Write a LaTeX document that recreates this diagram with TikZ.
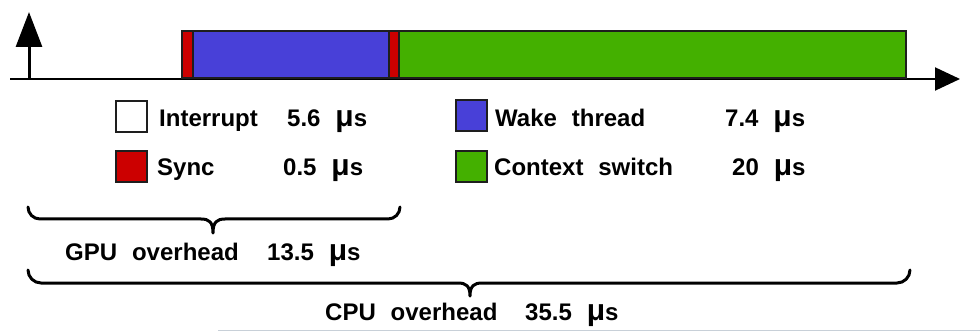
\documentclass[tikz,border=0pt]{standalone}
\usepackage{fontspec}
\setmainfont{Liberation Sans}
\usetikzlibrary{arrows.meta}
\definecolor{syncred}{RGB}{204,0,0}
\definecolor{wakeblue}{RGB}{72,64,216}
\definecolor{ctxgreen}{RGB}{68,176,0}
\definecolor{edge}{RGB}{30,30,30}
\newcommand\widewords{\spaceskip=0.62em\relax}
% micro sign set a little larger than the surrounding text
\newcommand\us{{\fontsize{30}{30}\selectfont μ}s}
\tikzset{
  txt/.style={anchor=base west, inner sep=0pt,
    font=\fontsize{24}{28}\selectfont\bfseries,
    execute at begin node=\widewords},
  seg/.style={draw=edge, line width=1.8pt, anchor=south west, inner sep=0pt,
    minimum height=47pt},
  swatch/.style={draw=edge, line width=1.8pt, anchor=north west, inner sep=0pt,
    minimum size=31pt},
  axis/.style={line width=2pt, black},
  brace/.style={line width=3pt, black, line cap=round, line join=round},
}
\begin{document}
\begin{tikzpicture}[x=1pt,y=-1pt]
\useasboundingbox (0,0) rectangle (980,331);

% time axis and the event marker
\coordinate (t0) at (10,79);
\coordinate (tend) at (960,79);
\coordinate (evbase) at (29,79);
\coordinate (evtip) at (29,12);
\draw[axis, -{Triangle[length=25pt,width=23pt]}] (t0) -- (tend);
\draw[line width=3pt, -{Triangle[length=35pt,width=26pt]}] (evbase) -- (evtip);

% timeline segments
\node[seg, fill=syncred,  minimum width=11pt]  (s1) at (181,79) {};
\node[seg, fill=wakeblue, minimum width=196pt] (wk) at (192,79) {};
\node[seg, fill=syncred,  minimum width=10pt]  (s2) at (388,79) {};
\node[seg, fill=ctxgreen, minimum width=507pt] (cx) at (398,79) {};

% legend
\node[swatch, fill=white]    (lgI) at (115,100) {};
\node[swatch, fill=syncred]  (lgS) at (115,150) {};
\node[swatch, fill=wakeblue] (lgW) at (455,99) {};
\node[swatch, fill=ctxgreen] (lgC) at (455,150) {};

\node[txt] (tI)  at (159,127) {Interrupt};
\node[txt] (vI)  at (287,127) {5.6 \us};
\node[txt] (tS)  at (157,176) {Sync};
\node[txt] (vS)  at (283,176) {0.5 \us};
\node[txt] (tW)  at (495,127) {Wake thread};
\node[txt] (vW)  at (725,127) {7.4 \us};
\node[txt] (tC)  at (494,176) {Context switch};
\node[txt] (vC)  at (732,176) {20 \us};

% GPU overhead brace
\coordinate (gL) at (28,207);
\coordinate (gR) at (400,207);
\coordinate (gM) at (213,233);
\draw[brace] (gL) arc[start angle=180, end angle=270, radius=12pt]
  -- (201,219) .. controls (209,219) and (213,222) .. (gM)
  .. controls (213,222) and (217,219) .. (225,219)
  -- (388,219) arc[start angle=270, end angle=360, radius=12pt];
\node[txt] (tG) at (65,261) {GPU overhead};
\node[txt] (vG) at (267,261) {13.5 \us};

% CPU overhead brace
\coordinate (cL) at (28,270);
\coordinate (cR) at (910,270);
\coordinate (cM) at (470,296);
\draw[brace] (cL) arc[start angle=180, end angle=270, radius=13pt]
  -- (458,283) .. controls (466,283) and (470,286) .. (cM)
  .. controls (470,286) and (474,283) .. (482,283)
  -- (897,283) arc[start angle=270, end angle=360, radius=13pt];
\node[txt] (tP) at (325,320) {CPU overhead};
\node[txt] (vP) at (525,320) {35.5 \us};

% thin rule along the lower edge
\coordinate (r1) at (218,330);
\coordinate (r2) at (980,330);
\draw[line width=1pt, color={rgb,255:red,200;green,208;blue,216}] (r1) -- (r2);
\end{tikzpicture}
\end{document}
